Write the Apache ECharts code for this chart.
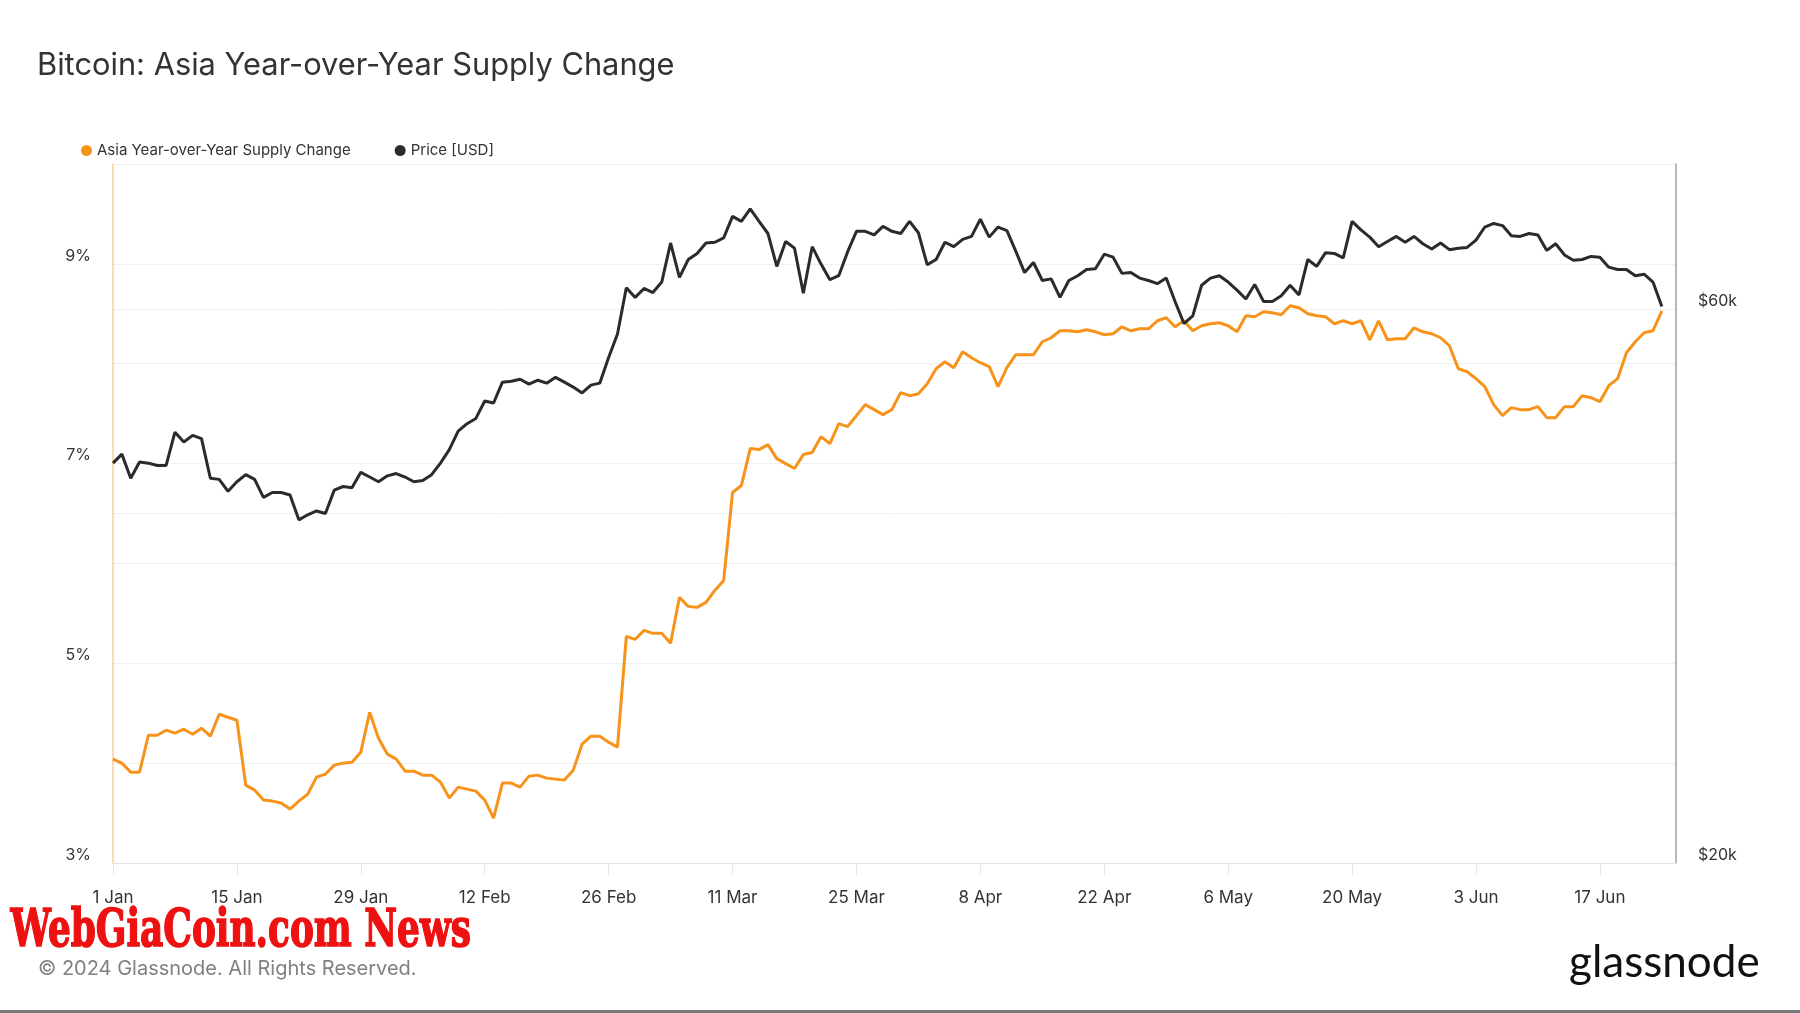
<!DOCTYPE html>
<html><head><meta charset="utf-8">
<script src="https://cdn.jsdelivr.net/npm/echarts@6/dist/echarts.min.js"></script>
<style>html,body{margin:0;padding:0;background:#fff}#c{width:1800px;height:1013px}</style>
</head><body><div id="c"></div>
<script>
// Daily data, 1 Jan 2024 .. 24 Jun 2024 (index = days since 1 Jan)
const startDate = '2024-01-01';
const tickLabels = ['1 Jan','15 Jan','29 Jan','12 Feb','26 Feb','11 Mar','25 Mar','8 Apr','22 Apr','6 May','20 May','3 Jun','17 Jun'];
const leftLabelValues = [3, 5, 7, 9];
const rightGridValues = [20000, 40000, 60000, 80000];
const rightLabelValues = [20000, 60000];

const supplyChange = [
 4.04,4.00,3.91,3.91,4.28,4.28,4.33,4.30,4.34,4.29,4.35,4.27,4.49,4.46,4.43,3.78,3.73,3.63,3.62,3.60,
 3.54,3.62,3.69,3.86,3.89,3.98,4.00,4.01,4.11,4.51,4.25,4.09,4.04,3.92,3.92,3.88,3.88,3.81,3.65,3.76,
 3.74,3.72,3.63,3.45,3.80,3.80,3.76,3.87,3.88,3.85,3.84,3.83,3.93,4.19,4.27,4.27,4.21,4.16,5.27,5.24,
 5.33,5.30,5.30,5.20,5.66,5.57,5.56,5.61,5.73,5.83,6.71,6.78,7.15,7.14,7.19,7.05,7.00,6.95,7.09,7.11,
 7.27,7.20,7.40,7.37,7.48,7.59,7.54,7.49,7.54,7.71,7.68,7.70,7.80,7.95,8.02,7.96,8.12,8.06,8.01,7.97,
 7.77,7.96,8.09,8.09,8.09,8.22,8.26,8.33,8.33,8.32,8.34,8.32,8.29,8.30,8.37,8.33,8.35,8.35,8.43,8.46,
 8.37,8.43,8.33,8.38,8.40,8.41,8.38,8.32,8.48,8.47,8.52,8.51,8.49,8.58,8.56,8.50,8.48,8.47,8.40,8.43,
 8.40,8.43,8.24,8.43,8.24,8.25,8.25,8.36,8.32,8.30,8.26,8.18,7.95,7.92,7.85,7.77,7.59,7.48,7.56,7.54,
 7.54,7.57,7.46,7.46,7.57,7.57,7.68,7.66,7.62,7.78,7.85,8.11,8.22,8.31,8.33,8.53
];

const priceUSD = [
 44200,45000,42900,44300,44200,44000,44000,47000,46100,46700,46400,42900,42800,41800,42600,43200,42800,41300,41700,41700,
 41500,39500,39900,40200,40000,41900,42200,42100,43400,43000,42600,43100,43300,43000,42600,42700,43200,44200,45400,47100,
 47800,48300,50000,49800,51900,52000,52200,51700,52100,51800,52400,51900,51400,50800,51600,51800,54500,57100,62600,61400,
 62500,62000,63300,68400,63900,66200,67000,68400,68500,69100,72100,71400,73200,71400,69700,65300,68600,67700,61900,67900,
 65600,63600,64100,67200,70000,70000,69500,70700,70000,69700,71400,69800,65500,66200,68500,67900,68900,69300,71700,69200,
 70600,70100,67300,64500,65800,63500,63700,61400,63500,64100,64900,65000,66900,66500,64400,64500,63800,63500,63100,63800,
 60900,58300,59200,62900,63800,64100,63300,62300,61200,63000,60900,60900,61600,62900,61700,66200,65300,67100,67000,66400,
 71400,70200,69200,67900,68600,69300,68500,69300,68300,67600,68400,67500,67700,67800,68800,70600,71100,70800,69400,69300,
 69700,69500,67400,68300,66800,66100,66200,66600,66500,65200,64900,64900,64100,64300,63300,60300
];

const FONT = 'Inter, "Noto Sans", sans-serif';
const chart = echarts.init(document.getElementById('c'), null, {renderer: 'canvas'});
const xTickValues = tickLabels.map((_, i) => i * 14);

chart.setOption({
  animation: false,
  backgroundColor: '#ffffff',
  title: {
    text: 'Bitcoin: Asia Year-over-Year Supply Change',
    left: 32, top: 45,
    textStyle: {fontFamily: FONT, fontSize: 30.8, fontWeight: 400, color: '#333333'}
  },
  legend: {
    left: 76, top: 138,
    icon: 'circle', itemWidth: 11, itemHeight: 11, itemGap: 44,
    textStyle: {fontFamily: FONT, fontSize: 15, color: '#333333'},
    data: ['Asia Year-over-Year Supply Change', 'Price [USD]']
  },
  grid: {left: 113, right: 124, top: 164, bottom: 150, containLabel: false},
  xAxis: {
    type: 'value', min: 0, max: 176.6, interval: 14,
    axisLine: {show: true, lineStyle: {color: '#e2e2e2', width: 1}},
    axisTick: {show: true, length: 12, lineStyle: {color: '#e8e8e8'}, customValues: xTickValues},
    axisLabel: {
      customValues: xTickValues,
      margin: 26, fontFamily: FONT, fontSize: 17, color: '#333333',
      formatter: v => (v % 14 === 0 && tickLabels[v / 14]) ? tickLabels[v / 14] : ''
    },
    splitLine: {show: false}
  },
  yAxis: [
    {
      type: 'value', min: 3, max: 10, interval: 1, position: 'left',
      axisLine: {show: true, lineStyle: {color: '#fbcf96', width: 1.5}},
      axisTick: {show: false},
      axisLabel: {
        margin: 22, fontFamily: FONT, fontSize: 16, color: '#333333', verticalAlign: 'bottom',
        formatter: v => leftLabelValues.includes(v) ? v + '%' : ''
      },
      splitLine: {show: true, lineStyle: {color: '#f0f0f0', width: 1}}
    },
    {
      type: 'log', logBase: 10, min: 20000, max: 80000, position: 'right',
      axisLine: {show: true, lineStyle: {color: '#a0a0a0', width: 1.5}},
      axisTick: {show: false, customValues: rightGridValues},
      axisLabel: {
        customValues: rightLabelValues,
        margin: 22, fontFamily: FONT, fontSize: 16, color: '#333333', verticalAlign: 'bottom',
        formatter: v => '$' + Math.round(v / 1000) + 'k'
      },
      splitLine: {show: true, lineStyle: {color: '#f0f0f0', width: 1}}
    }
  ],
  series: [
    {
      name: 'Asia Year-over-Year Supply Change', type: 'line', yAxisIndex: 0,
      showSymbol: false, color: '#f7931a',
      lineStyle: {width: 3, color: '#f7931a'},
      data: supplyChange.map((v, i) => [i, v])
    },
    {
      name: 'Price [USD]', type: 'line', yAxisIndex: 1,
      showSymbol: false, color: '#2b2b2b',
      lineStyle: {width: 3, color: '#2b2b2b'},
      data: priceUSD.map((v, i) => [i, v])
    }
  ],
  graphic: [
    {type: 'text', left: 10, top: 906, scaleX: 0.69, originX: 0,
      style: {text: 'WebGiaCoin.com News', fill: '#ee1111', stroke: '#ee1111', lineWidth: 1.6,
        fontFamily: 'DejaVu Serif', fontWeight: 'bold', fontSize: 52}},
    {type: 'text', left: 38, top: 959, style: {text: '\u00a9 2024 Glassnode. All Rights Reserved.', fill: '#808080',
      font: '20px ' + FONT}},
    {type: 'text', left: 1569, top: 941, style: {text: 'glassnode', fill: '#111111',
      fontFamily: 'Lato', fontWeight: 'normal', fontSize: 44}},
    {type: 'rect', shape: {x: 0, y: 1010, width: 1800, height: 3}, style: {fill: '#7a7a7a'}}
  ]
});
</script></body></html>
